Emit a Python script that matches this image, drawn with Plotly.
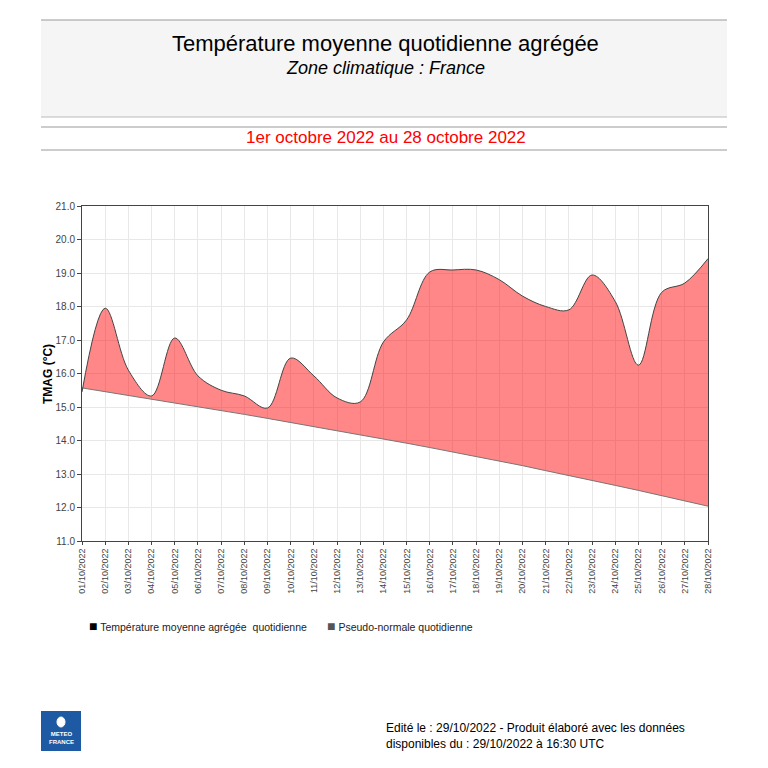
import plotly.graph_objects as go

dates = ["2022-10-%02d" % d for d in range(1, 29)]
tmag = [15.45, 17.95, 16.1, 15.33, 17.06, 15.93, 15.5, 15.33, 14.97, 16.46,
        15.93, 15.27, 15.15, 16.94, 17.6, 19.03, 19.09, 19.09, 18.8, 18.31,
        18.0, 17.9, 18.94, 18.15, 16.25, 18.42, 18.7, 19.43]
normale = [15.57, 15.46, 15.35, 15.24, 15.12, 15.00, 14.89, 14.78, 14.66, 14.54,
           14.42, 14.30, 14.17, 14.05, 13.92, 13.79, 13.66, 13.52, 13.39, 13.25,
           13.10, 12.96, 12.81, 12.66, 12.51, 12.36, 12.20, 12.04]
y_ticks = [11.0, 12.0, 13.0, 14.0, 15.0, 16.0, 17.0, 18.0, 19.0, 20.0, 21.0]

FONT = "Liberation Sans, Arial, sans-serif"

fig = go.Figure()
fig.add_trace(go.Scatter(x=dates, y=normale, mode="lines",
                         line=dict(color="#777777", width=1),
                         name="Pseudo-normale quotidienne", hoverinfo="x+y"))
fig.add_trace(go.Scatter(x=dates, y=tmag, mode="lines",
                         line=dict(color="#444444", width=1, shape="spline", smoothing=1),
                         fill="tonexty", fillcolor="rgba(255,0,0,0.47)",
                         name="Température moyenne agrégée quotidienne", hoverinfo="x+y"))

fig.update_layout(
    width=768, height=768,
    margin=dict(l=74, r=68, t=198, b=235),
    paper_bgcolor="white", plot_bgcolor="white",
    showlegend=False,
    font=dict(family=FONT, color="#333333"),
)
fig.update_xaxes(
    type="date", range=[dates[0], dates[-1]],
    dtick=86400000, tick0=dates[0], tickformat="%d/%m/%Y", tickangle=-90,
    tickfont=dict(size=9, color="#444444"),
    showgrid=True, gridcolor="#e8e8e8", gridwidth=1,
    showline=True, linecolor="#444444", linewidth=1, mirror=True,
    ticks="outside", ticklen=3, tickcolor="#444444",
)
fig.update_yaxes(
    range=[11, 21], tickvals=y_ticks, ticktext=["%.1f" % v for v in y_ticks],
    tickfont=dict(size=10, color="#444444"),
    showgrid=True, gridcolor="#e8e8e8", gridwidth=1,
    showline=True, linecolor="#444444", linewidth=1, mirror=True,
    ticks="outside", ticklen=4, tickcolor="#444444",
)

# header panel and rules
fig.add_shape(type="rect", xref="paper", yref="paper", x0=-41/626, x1=645/626,
              y0=(541-117)/335, y1=(541-20)/335, fillcolor="#f5f5f5", line=dict(width=0), layer="below")
for yy, col in [(20, "#999999"), (117, "#bbbbbb"), (127, "#999999"), (150, "#999999")]:
    fig.add_shape(type="line", xref="paper", yref="paper", x0=-41/626, x1=645/626,
                  y0=(541-yy)/335, y1=(541-yy)/335, line=dict(color=col, width=1.2))

def px_ann(text, x, y, size, color="#000000", xanchor="center", italic=False, **kw):
    if italic:
        text = "<i>" + text + "</i>"
    fig.add_annotation(text=text, xref="paper", yref="paper",
                       x=(x-82)/626, y=(541-y)/335, xanchor=xanchor, yanchor="middle",
                       showarrow=False, font=dict(size=size, color=color, family=FONT), **kw)

px_ann("Température moyenne quotidienne agrégée", 385, 44, 22)
px_ann("Zone climatique : France", 385, 68, 18, italic=True)
px_ann("1er octobre 2022 au 28 octobre 2022", 386, 137, 17, color="#ff0000")

# y axis title
px_ann("<b>TMAG (°C)</b>", 48, 374, 12, textangle=-90)

# legend
fig.add_annotation(text="<span style='font-size:14px;color:#000000'>■</span> Température moyenne agrégée  quotidienne",
                   xref="paper", yref="paper", x=(87-82)/626, y=(541-626)/335,
                   xanchor="left", yanchor="middle", showarrow=False,
                   font=dict(size=10.5, color="#222222", family=FONT))
fig.add_annotation(text="<span style='font-size:14px;color:#555555'>■</span> Pseudo-normale quotidienne",
                   xref="paper", yref="paper", x=(325-82)/626, y=(541-626)/335,
                   xanchor="left", yanchor="middle", showarrow=False,
                   font=dict(size=10.5, color="#222222", family=FONT))

# logo
fig.add_shape(type="rect", xref="paper", yref="paper", x0=(41-82)/626, x1=(81-82)/626,
              y0=(541-751)/335, y1=(541-711)/335, fillcolor="#1d5aa3", line=dict(width=0))
fig.add_shape(type="circle", xref="paper", yref="paper", x0=(57-82)/626, x1=(65-82)/626,
              y0=(541-727)/335, y1=(541-717)/335, fillcolor="white", line=dict(color="white", width=1))
px_ann("<b>METEO<br>FRANCE</b>", 61, 738, 6, color="#ffffff")

# footer
px_ann("Edité le : 29/10/2022 - Produit élaboré avec les données<br>disponibles du : 29/10/2022 à 16:30 UTC",
       384, 736, 12, color="#000000", xanchor="left", align="left")

fig.write_html("out.html")
